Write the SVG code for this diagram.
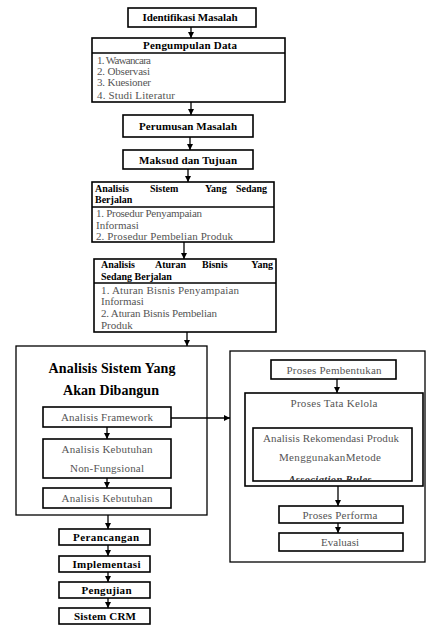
<svg xmlns="http://www.w3.org/2000/svg" width="428" height="627" viewBox="0 0 428 627">
<style>
.box{fill:#fff;stroke:#000;stroke-width:1.6}
.obox{fill:none;stroke:#000;stroke-width:1.3}
.ln{stroke:#000;stroke-width:1.3}
text{font-family:'Liberation Serif','Times New Roman',Times,'DejaVu Serif',serif}
.h{font-weight:bold;font-size:11px;fill:#000}
.hs{font-weight:bold;font-size:10px;fill:#000}
.t{font-size:11px;fill:#555}
.title{font-weight:bold;font-size:14px;fill:#000}
.c{text-anchor:middle}
.arr{stroke:#000;stroke-width:1.3;fill:none;marker-end:url(#ah)}
</style>
<defs>
<marker id="ah" markerUnits="userSpaceOnUse" markerWidth="7" markerHeight="7" refX="6" refY="3" orient="auto">
<path d="M0,0 L6,3 L0,6 z" fill="#000"/>
</marker>
<clipPath id="clipAR"><rect x="253" y="428" width="159" height="52"/></clipPath>
</defs>
<rect width="428" height="627" fill="#fff"/>

<g id="connectors">
<line class="arr" x1="191" y1="27" x2="191" y2="38"/>
<line class="arr" x1="191" y1="102" x2="191" y2="115"/>
<line class="arr" x1="190" y1="137" x2="190" y2="150"/>
<line class="arr" x1="188" y1="169" x2="188" y2="182"/>
<line class="arr" x1="184" y1="242" x2="184" y2="259"/>
<line class="arr" x1="187" y1="332" x2="187" y2="346"/>
<line class="arr" x1="107" y1="427" x2="107" y2="439"/>
<line class="arr" x1="107" y1="478" x2="107" y2="488"/>
<line class="arr" x1="108" y1="515" x2="108" y2="529"/>
<line class="arr" x1="108" y1="545" x2="108" y2="556"/>
<line class="arr" x1="108" y1="572" x2="108" y2="582"/>
<line class="arr" x1="108" y1="598" x2="108" y2="608"/>
<line class="arr" x1="171" y1="418" x2="230" y2="418"/>
<line class="arr" x1="337" y1="379" x2="337" y2="393"/>
<line class="arr" x1="337" y1="412" x2="337" y2="428"/>
<line class="arr" x1="338" y1="486" x2="338" y2="506"/>
<line class="arr" x1="338" y1="523" x2="338" y2="533"/>
</g>

<g id="identifikasi">
<rect class="box" x="128" y="8" width="128" height="19"/>
<text class="h c" x="190" y="21" textLength="95">Identifikasi Masalah</text>
</g>

<g id="pengumpulan">
<rect class="box" x="92" y="38" width="193" height="64"/>
<line class="ln" x1="92" y1="53" x2="285" y2="53"/>
<text class="h c" x="190" y="49" textLength="94">Pengumpulan Data</text>
<text class="t" x="97" y="64" textLength="54">1. Wawancara</text>
<text class="t" x="97" y="75" textLength="53">2. Observasi</text>
<text class="t" x="97" y="86" textLength="54">3. Kuesioner</text>
<text class="t" x="97" y="98.5" textLength="78">4. Studi Literatur</text>
</g>

<g id="perumusan">
<rect class="box" x="123" y="115" width="130" height="22"/>
<text class="h c" x="188" y="130" textLength="98">Perumusan Masalah</text>
</g>

<g id="maksud">
<rect class="box" x="123" y="150" width="130" height="19"/>
<text class="h c" x="188" y="163.5" textLength="98">Maksud dan Tujuan</text>
</g>

<g id="sistem-berjalan">
<rect class="box" x="92" y="182" width="182" height="60"/>
<line class="ln" x1="92" y1="207" x2="274" y2="207"/>
<text class="hs" y="192"><tspan x="95">Analisis</tspan><tspan x="150">Sistem</tspan><tspan x="205">Yang</tspan></text>
<text class="hs" x="267" y="192" text-anchor="end">Sedang</text>
<text class="hs" x="95" y="203">Berjalan</text>
<text class="t" x="96" y="216.5" textLength="106">1. Prosedur Penyampaian</text>
<text class="t" x="96" y="228.5">Informasi</text>
<text class="t" x="96" y="240" textLength="137">2. Prosedur Pembelian Produk</text>
</g>

<g id="aturan-bisnis">
<rect class="box" x="94" y="259" width="182" height="73"/>
<line class="ln" x1="94" y1="283" x2="276" y2="283"/>
<text class="hs" y="268"><tspan x="101">Analisis</tspan><tspan x="155">Aturan</tspan><tspan x="202">Bisnis</tspan></text>
<text class="hs" x="273" y="268" text-anchor="end">Yang</text>
<text class="hs" x="101" y="280">Sedang Berjalan</text>
<text class="t" x="101" y="293.5" textLength="138">1. Aturan Bisnis Penyampaian</text>
<text class="t" x="101" y="305">Informasi</text>
<text class="t" x="101" y="317" textLength="116">2. Aturan Bisnis Pembelian</text>
<text class="t" x="101" y="329">Produk</text>
</g>

<g id="sistem-dibangun">
<rect class="obox" x="16" y="346" width="191" height="169"/>
<text class="title c" x="112" y="373" textLength="127">Analisis Sistem Yang</text>
<text class="title c" x="111" y="395" textLength="96">Akan Dibangun</text>
</g>

<g id="analisis-framework">
<rect class="box" x="43" y="407" width="128" height="20"/>
<text class="t c" x="107" y="420.5" textLength="92">Analisis Framework</text>
</g>

<g id="kebutuhan-nonfungsional">
<rect class="box" x="43" y="439" width="128" height="39"/>
<text class="t c" x="107" y="452.5" textLength="91">Analisis Kebutuhan</text>
<text class="t c" x="107" y="471.5" textLength="74">Non-Fungsional</text>
</g>

<g id="kebutuhan">
<rect class="box" x="43" y="488" width="128" height="20"/>
<text class="t c" x="107" y="502" textLength="91">Analisis Kebutuhan</text>
</g>

<g id="perancangan">
<rect class="box" x="59" y="529" width="91" height="16"/>
<text class="h c" x="106" y="541" textLength="66">Perancangan</text>
</g>

<g id="implementasi">
<rect class="box" x="59" y="556" width="91" height="16"/>
<text class="h c" x="106.5" y="567.5" textLength="68">Implementasi</text>
</g>

<g id="pengujian">
<rect class="box" x="59" y="582" width="91" height="16"/>
<text class="h c" x="106.5" y="594" textLength="50">Pengujian</text>
</g>

<g id="sistem-crm">
<rect class="box" x="59" y="608" width="91" height="16"/>
<text class="h c" x="105" y="620" textLength="62">Sistem CRM</text>
</g>

<g id="framework-box">
<rect class="obox" x="230" y="351" width="195" height="211"/>
</g>

<g id="proses-pembentukan">
<rect class="box" x="271" y="360" width="125" height="19"/>
<text class="t c" x="334" y="374" textLength="95">Proses Pembentukan</text>
</g>

<g id="proses-tata-kelola">
<rect class="box" x="245" y="393" width="178" height="93"/>
<text class="t c" x="334" y="406.5" textLength="87">Proses Tata Kelola</text>
</g>

<g id="analisis-rekomendasi">
<rect class="box" x="253" y="428" width="159" height="53"/>
<text class="t c" x="331" y="441.5" textLength="136">Analisis Rekomendasi Produk</text>
<text class="t c" x="330" y="460.5" textLength="102">MenggunakanMetode</text>
<text class="c" x="330" y="483" clip-path="url(#clipAR)" font-size="10.5" font-style="italic" font-weight="bold" fill="#333" textLength="83">Association Rules</text>
</g>

<g id="proses-performa">
<rect class="box" x="279" y="506" width="124" height="17"/>
<text class="t c" x="340" y="519" textLength="75">Proses Performa</text>
</g>

<g id="evaluasi">
<rect class="box" x="279" y="533" width="124" height="18"/>
<text class="t c" x="340" y="546" textLength="38">Evaluasi</text>
</g>
</svg>
